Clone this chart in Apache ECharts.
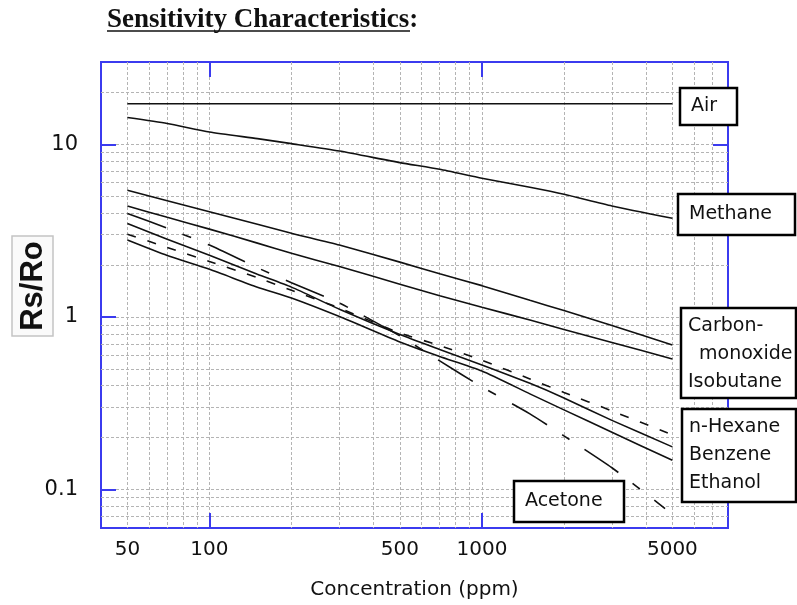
<!DOCTYPE html>
<html>
<head>
<meta charset="utf-8">
<style>
  html, body { margin: 0; padding: 0; background: #fff; }
  #chart { width: 797px; height: 605px; }
</style>
<script src="https://cdn.jsdelivr.net/npm/echarts@6/dist/echarts.min.js"></script>
</head>
<body>
<div id="chart"></div>
<script>
// concentration (ppm) sample points
const ppm = [50, 70, 100, 150, 200, 300, 500, 700, 1000, 1500, 2000, 3000, 5000];
const airPpm = [50, 5000];
const acetonePpm = [50, 70, 100, 150, 200, 300, 500, 700, 1000, 1500, 2000, 3000, 4700];

// Rs/Ro values
const air = [17.2, 17.2];
const methane = [14.3, 13.2, 11.8, 10.8, 10.1, 9.15, 7.84, 7.17, 6.36, 5.64, 5.14, 4.40, 3.73];
const carbonMonoxide = [5.42, 4.71, 4.07, 3.45, 3.06, 2.61, 2.08, 1.78, 1.52, 1.25, 1.09, 0.893, 0.689];
const isobutane = [4.40, 3.78, 3.23, 2.68, 2.34, 1.96, 1.55, 1.33, 1.14, 0.961, 0.847, 0.712, 0.572];
const nHexane = [3.02, 2.53, 2.10, 1.69, 1.43, 1.127, 0.808, 0.684, 0.561, 0.438, 0.366, 0.286, 0.208];
const benzene = [3.48, 2.82, 2.28, 1.77, 1.49, 1.11, 0.792, 0.649, 0.528, 0.413, 0.340, 0.252, 0.177];
const ethanol = [2.79, 2.27, 1.89, 1.49, 1.29, 1.007, 0.717, 0.591, 0.487, 0.359, 0.290, 0.215, 0.148];
const acetone = [3.98, 3.27, 2.61, 1.93, 1.58, 1.205, 0.777, 0.557, 0.394, 0.275, 0.205, 0.134, 0.0777];

// axis ticks
const xLabels = [50, 100, 500, 1000, 5000];
const xMajor = [100, 1000];
const xGrid = [50, 60, 70, 80, 90, 100, 200, 300, 400, 500, 600, 700, 800, 900,
  1000, 2000, 3000, 4000, 5000, 6000, 7000];
const yLabels = [0.1, 1, 10];
const yGrid = [0.07, 0.08, 0.09, 0.1, 0.2, 0.3, 0.4, 0.5, 0.6, 0.7, 0.8, 0.9,
  1, 2, 3, 4, 5, 6, 7, 8, 9, 10, 20];

const blue = '#3b3bef';
const axisFont = 'DejaVu Sans';

function pairs(xs, ys) {
  return xs.map((x, i) => [x, ys[i]]);
}

const chart = echarts.init(document.getElementById('chart'));

const xBase = { type: 'log', min: 40, max: 8000, gridIndex: 0 };
const yBase = { type: 'log', min: 0.06, max: 30, gridIndex: 0 };

function line(name, xs, ys, dash) {
  return {
    name: name,
    type: 'line',
    data: pairs(xs, ys),
    symbol: 'none',
    smooth: 0.2,
    lineStyle: { color: '#111', width: 1.6, type: dash || 'solid' },
    z: 3
  };
}

let option = {
  animation: false,
  grid: {
    left: 101, right: 69, top: 62, bottom: 75,
    show: true, borderColor: blue, borderWidth: 2, backgroundColor: '#fff'
  },
  xAxis: [
    Object.assign({}, xBase, {
      position: 'bottom',
      axisLine: { show: false },
      axisTick: { show: true, inside: true, length: 15, customValues: xMajor,
        lineStyle: { color: blue, width: 2 } },
      axisLabel: { customValues: xLabels, margin: 12, color: '#111',
        fontFamily: axisFont, fontSize: 20, formatter: v => String(Math.round(v)) },
      splitLine: { show: false },
      name: 'Concentration (ppm)',
      nameLocation: 'middle',
      nameGap: 52,
      nameTextStyle: { fontFamily: axisFont, fontSize: 20, color: '#111' }
    }),
    Object.assign({}, xBase, {
      position: 'top',
      axisLine: { show: false },
      axisTick: { show: true, inside: true, length: 15, customValues: xMajor,
        lineStyle: { color: blue, width: 2 } },
      axisLabel: { show: false },
      splitLine: { show: false }
    }),
    Object.assign({}, xBase, {
      position: 'bottom',
      axisLine: { show: false },
      axisTick: { show: false, customValues: xGrid },
      axisLabel: { show: false },
      splitLine: { show: true, lineStyle: { color: '#b4b4b4', width: 1, type: [3, 2] } }
    })
  ],
  yAxis: [
    Object.assign({}, yBase, {
      position: 'left',
      axisLine: { show: false },
      axisTick: { show: true, inside: true, length: 15, customValues: yLabels,
        lineStyle: { color: blue, width: 2 } },
      axisLabel: { customValues: yLabels, margin: 23, color: '#111',
        fontFamily: axisFont, fontSize: 21, formatter: v => String(+Number(v).toPrecision(3)) },
      splitLine: { show: false }
    }),
    Object.assign({}, yBase, {
      position: 'right',
      axisLine: { show: false },
      axisTick: { show: true, inside: true, length: 15, customValues: yLabels,
        lineStyle: { color: blue, width: 2 } },
      axisLabel: { show: false },
      splitLine: { show: false }
    }),
    Object.assign({}, yBase, {
      position: 'left',
      axisLine: { show: false },
      axisTick: { show: false, customValues: yGrid },
      axisLabel: { show: false },
      splitLine: { show: true, lineStyle: { color: '#b4b4b4', width: 1, type: [3, 2] } }
    })
  ],
  series: [
    line('Air', airPpm, air),
    line('Methane', ppm, methane),
    line('Carbon monoxide', ppm, carbonMonoxide),
    line('Isobutane', ppm, isobutane),
    line('n-Hexane', ppm, nHexane, [9, 12]),
    line('Benzene', ppm, benzene),
    line('Ethanol', ppm, ethanol),
    line('Acetone', acetonePpm, acetone, [41, 18, 9, 18])
  ],
  graphic: []
};

// boxed labels
function box(x, y, w, h, lines, tx, dy) {
  const els = [{
    type: 'rect', z: 10,
    shape: { x: x, y: y, width: w, height: h },
    style: { fill: '#fff', stroke: '#000', lineWidth: 2.5 }
  }];
  lines.forEach((t, i) => {
    els.push({
      type: 'text', z: 11,
      x: t.x !== undefined ? t.x : tx, y: y + dy + i * 28,
      style: { text: t.text || t, fontFamily: axisFont, fontSize: 19, fill: '#111',
        verticalAlign: 'middle', align: 'left' }
    });
  });
  return els;
}

option.graphic = [].concat(
  [{
    type: 'text', x: 107, y: 20,
    style: { text: 'Sensitivity Characteristics:', fontFamily: 'Liberation Serif',
      fontWeight: 'bold', fontSize: 27, fill: '#111', verticalAlign: 'middle' }
  }, {
    type: 'line', shape: { x1: 107, y1: 31, x2: 410, y2: 31 },
    style: { stroke: '#111', lineWidth: 1.5 }
  }, {
    type: 'rect', shape: { x: 12, y: 236, width: 41, height: 100 },
    style: { fill: '#fafafa', stroke: '#c4c4c4', lineWidth: 1.5 }
  }, {
    type: 'text', x: 33, y: 286, rotation: Math.PI / 2,
    style: { text: 'Rs/Ro', fontFamily: 'Liberation Sans', fontWeight: 'bold',
      fontSize: 31, fill: '#111', align: 'center', verticalAlign: 'middle' }
  }],
  box(680, 88, 57, 37, ['Air'], 691, 18.5),
  box(678, 194, 117, 41, ['Methane'], 689, 20.5),
  box(681, 308, 115, 90, ['Carbon-', { text: 'monoxide', x: 699 }, 'Isobutane'], 688, 18),
  box(682, 409, 114, 93, ['n-Hexane', 'Benzene', 'Ethanol'], 689, 18),
  box(514, 481, 110, 41, ['Acetone'], 525, 20.5)
);

chart.setOption(option);
</script>
</body>
</html>
